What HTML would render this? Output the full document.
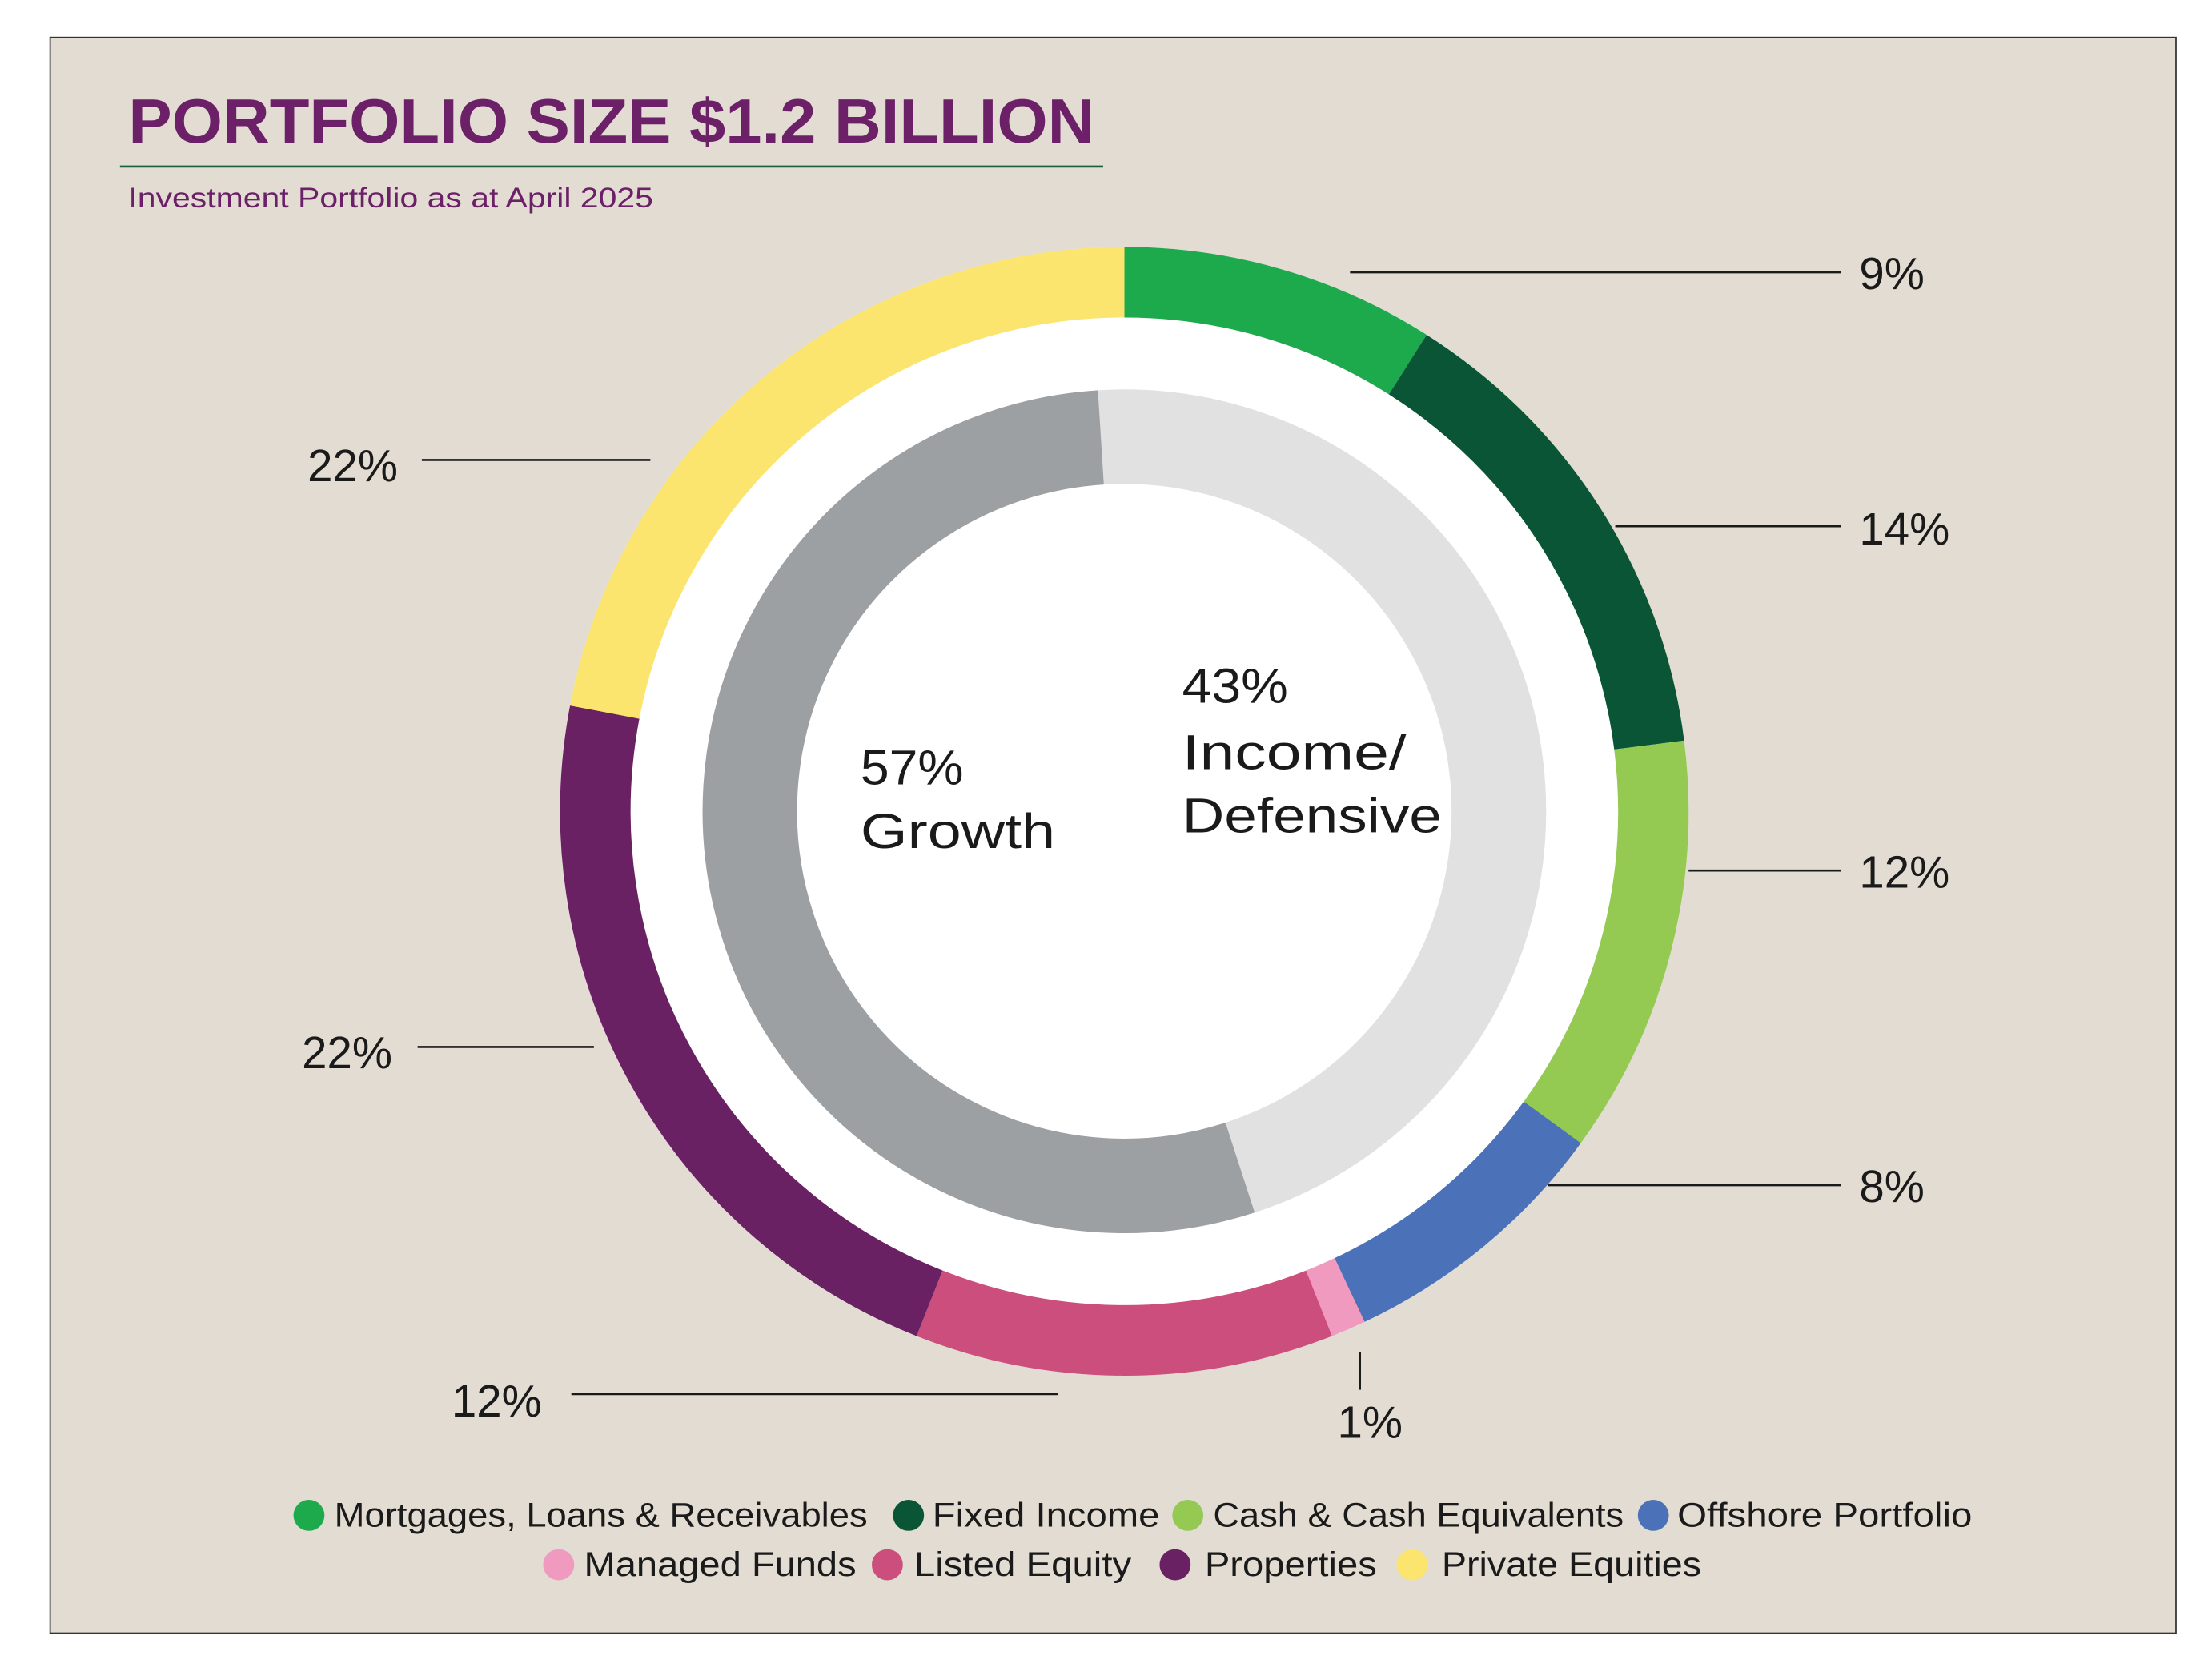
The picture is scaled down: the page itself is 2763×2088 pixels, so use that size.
<!DOCTYPE html>
<html><head><meta charset="utf-8"><style>
html,body{margin:0;padding:0;background:#fff;}
svg{display:block;}
text{font-family:"Liberation Sans",sans-serif;}
</style></head><body>
<svg width="2763" height="2088" viewBox="0 0 1568 1185" xmlns="http://www.w3.org/2000/svg">
<rect x="0" y="0" width="1568" height="1185" fill="#ffffff"/>
<rect x="35.5" y="26.5" width="1507" height="1131" fill="#e2dcd2" stroke="#333" stroke-width="1"/>
<text x="91" y="101" font-size="44" font-weight="bold" fill="#6b2068" textLength="685" lengthAdjust="spacingAndGlyphs">PORTFOLIO SIZE $1.2 BILLION</text>
<line x1="85" y1="118" x2="782" y2="118" stroke="#1a5e3e" stroke-width="1.5"/>
<text x="91" y="147" font-size="20" fill="#6b2068" textLength="372" lengthAdjust="spacingAndGlyphs">Investment Portfolio as at April 2025</text>
<circle cx="797" cy="575" r="400" fill="#ffffff"/>
<g fill="none" stroke-width="50">
<circle cx="797" cy="575" r="375" stroke="#1daa4d" stroke-dasharray="212.06 2356.19" transform="rotate(-90 797 575)"/>
<circle cx="797" cy="575" r="375" stroke="#0b5537" stroke-dasharray="329.87 2356.19" transform="rotate(-57.6 797 575)"/>
<circle cx="797" cy="575" r="375" stroke="#94c952" stroke-dasharray="282.74 2356.19" transform="rotate(-7.2 797 575)"/>
<circle cx="797" cy="575" r="375" stroke="#4b72b8" stroke-dasharray="188.50 2356.19" transform="rotate(36 797 575)"/>
<circle cx="797" cy="575" r="375" stroke="#f09ac0" stroke-dasharray="23.56 2356.19" transform="rotate(64.8 797 575)"/>
<circle cx="797" cy="575" r="375" stroke="#cc4e7c" stroke-dasharray="282.74 2356.19" transform="rotate(68.4 797 575)"/>
<circle cx="797" cy="575" r="375" stroke="#6a2164" stroke-dasharray="518.36 2356.19" transform="rotate(111.6 797 575)"/>
<circle cx="797" cy="575" r="375" stroke="#fbe56f" stroke-dasharray="518.36 2356.19" transform="rotate(190.8 797 575)"/>
</g>
<g fill="none" stroke-width="67">
<circle cx="797" cy="575" r="265.5" stroke="#e1e1e2" stroke-dasharray="767.4 1668.19" transform="rotate(-93.6 797 575)"/>
<circle cx="797" cy="575" r="265.5" stroke="#9da0a2" stroke-dasharray="900.8 1668.19" transform="rotate(72 797 575)"/>
</g>
<g stroke="#1a1a1a" stroke-width="1.5">
<line x1="957" y1="193" x2="1305" y2="193"/>
<line x1="1145" y1="373" x2="1305" y2="373"/>
<line x1="1197" y1="617" x2="1305" y2="617"/>
<line x1="1097" y1="840" x2="1305" y2="840"/>
<line x1="964" y1="958" x2="964" y2="985"/>
<line x1="405" y1="988" x2="750" y2="988"/>
<line x1="296" y1="742" x2="421" y2="742"/>
<line x1="299" y1="326" x2="461" y2="326"/>
</g>
<g font-size="32" fill="#1a1a1a">
<text x="1318" y="205">9%</text>
<text x="1318" y="386">14%</text>
<text x="1318" y="629">12%</text>
<text x="1318" y="852">8%</text>
<text x="948" y="1019">1%</text>
<text x="320" y="1004">12%</text>
<text x="214" y="757">22%</text>
<text x="218" y="341">22%</text>
</g>
<g font-size="35" fill="#1a1a1a">
<text x="838" y="498" textLength="75" lengthAdjust="spacingAndGlyphs">43%</text>
<text x="838" y="545" textLength="159" lengthAdjust="spacingAndGlyphs">Income/</text>
<text x="838" y="590" textLength="184" lengthAdjust="spacingAndGlyphs">Defensive</text>
<text x="610" y="556" textLength="73" lengthAdjust="spacingAndGlyphs">57%</text>
<text x="610" y="601" textLength="138" lengthAdjust="spacingAndGlyphs">Growth</text>
</g>
<g font-size="24" fill="#1a1a1a">
<circle cx="219" cy="1074" r="11" fill="#1daa4d"/><text x="237" y="1082" textLength="378" lengthAdjust="spacingAndGlyphs">Mortgages, Loans &amp; Receivables</text>
<circle cx="644" cy="1074" r="11" fill="#0b5537"/><text x="661" y="1082" textLength="161" lengthAdjust="spacingAndGlyphs">Fixed Income</text>
<circle cx="842" cy="1074" r="11" fill="#94c952"/><text x="860" y="1082" textLength="291" lengthAdjust="spacingAndGlyphs">Cash &amp; Cash Equivalents</text>
<circle cx="1172" cy="1074" r="11" fill="#4b72b8"/><text x="1189" y="1082" textLength="209" lengthAdjust="spacingAndGlyphs">Offshore Portfolio</text>
<circle cx="396" cy="1109" r="11" fill="#f09ac0"/><text x="414" y="1117" textLength="193" lengthAdjust="spacingAndGlyphs">Managed Funds</text>
<circle cx="629" cy="1109" r="11" fill="#cc4e7c"/><text x="648" y="1117" textLength="154" lengthAdjust="spacingAndGlyphs">Listed Equity</text>
<circle cx="833" cy="1109" r="11" fill="#6a2164"/><text x="854" y="1117" textLength="122" lengthAdjust="spacingAndGlyphs">Properties</text>
<circle cx="1001" cy="1109" r="11" fill="#fbe56f"/><text x="1022" y="1117" textLength="184" lengthAdjust="spacingAndGlyphs">Private Equities</text>
</g>
</svg>
</body></html>
